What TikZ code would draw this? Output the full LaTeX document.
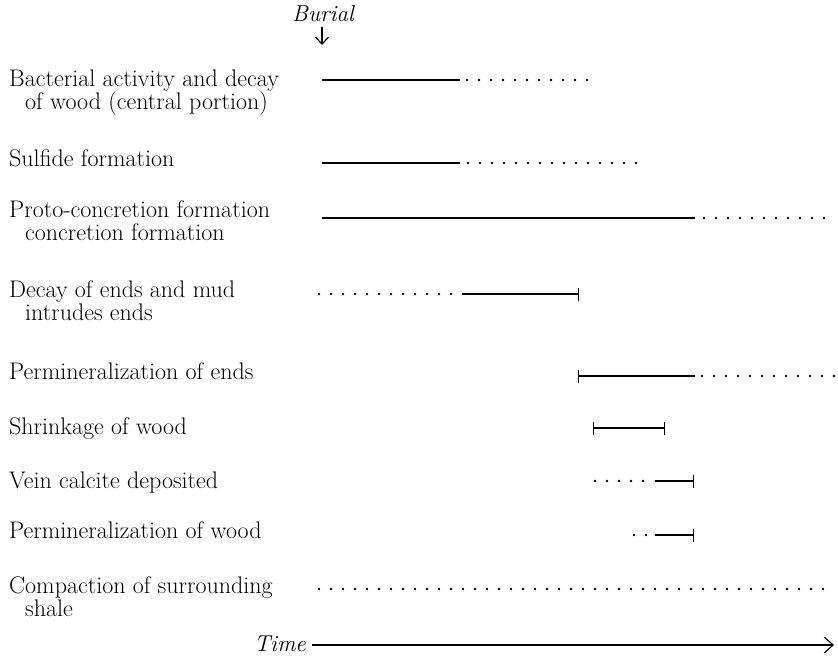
\documentclass[tikz,border=0pt]{standalone}
\usepackage{fontspec}
\usetikzlibrary{arrows.meta}
\begin{document}
\begin{tikzpicture}[x=1pt,y=-1pt,
  lbl/.style={anchor=base west,inner sep=0pt,font=\fontsize{24}{23}\selectfont\addfontfeatures{FakeBold=0.6}},
  itlbl/.style={inner sep=0pt,font=\fontsize{23}{23}\selectfont\itshape\addfontfeatures{FakeBold=0.6}},
  solidseg/.style={line width=1.4pt},
  dotseg/.style={line width=2.8pt,line cap=round,dash pattern=on 0pt off 12pt},
  barend/.style={-{Bar[width=13pt,line width=1.4pt]}},
  barstart/.style={{Bar[width=13pt,line width=1.4pt]}-},
  barboth/.style={{Bar[width=13pt,line width=1.4pt]}-{Bar[width=13pt,line width=1.4pt]}},
]
\useasboundingbox (0,0) rectangle (838,658);
% Burial
\node[itlbl,anchor=base] (burial) at (323,22) {Burial};
\coordinate (bt) at (322,27);
\coordinate (bb) at (322,45);
\draw[line width=1.2pt,-{Straight Barb[length=7pt,width=13pt,line width=1.2pt]}] (bt) -- (bb);

% labels
\node[lbl] (l1a) at (9,87) {Bacterial activity and decay};
\node[lbl] (l1b) at (25,110) {of wood (central portion)};
\node[lbl] (l2) at (9,166) {Sulfide formation};
\node[lbl] (l3a) at (9,217) {Proto-concretion formation};
\node[lbl] (l3b) at (25,240) {concretion formation};
\node[lbl] (l4a) at (9,297) {Decay of ends and mud};
\node[lbl] (l4b) at (25,320) {intrudes ends};
\node[lbl] (l5) at (9,379) {Permineralization of ends};
\node[lbl] (l6) at (9,434) {Shrinkage of wood};
\node[lbl] (l7) at (9,488) {Vein calcite deposited};
\node[lbl] (l8) at (9,538) {Permineralization of wood};
\node[lbl] (l9a) at (9,593) {Compaction of surrounding};
\node[lbl] (l9b) at (25,616) {shale};

% row 1
\coordinate (r1a) at (322,80); \coordinate (r1b) at (460,80);
\coordinate (r1c) at (467,80); \coordinate (r1d) at (590,80);
\draw[solidseg] (r1a) -- (r1b);
\draw[dotseg] (r1c) -- (r1d);
% row 2
\coordinate (r2a) at (322,163); \coordinate (r2b) at (460,163);
\coordinate (r2c) at (468,163); \coordinate (r2d) at (638,163);
\draw[solidseg] (r2a) -- (r2b);
\draw[dotseg] (r2c) -- (r2d);
% row 3
\coordinate (r3a) at (322,218); \coordinate (r3b) at (695,218);
\coordinate (r3c) at (704,218); \coordinate (r3d) at (830,218);
\draw[solidseg] (r3a) -- (r3b);
\draw[dotseg] (r3c) -- (r3d);
% row 4
\coordinate (r4a) at (319,294); \coordinate (r4b) at (456,294);
\coordinate (r4c) at (462,294); \coordinate (r4d) at (579,294);
\draw[dotseg] (r4a) -- (r4b);
\draw[solidseg,barend] (r4c) -- (r4d);
% row 5
\coordinate (r5a) at (578,376); \coordinate (r5b) at (695,376);
\coordinate (r5c) at (702,376); \coordinate (r5d) at (836,376);
\draw[solidseg,barstart] (r5a) -- (r5b);
\draw[dotseg] (r5c) -- (r5d);
% row 6
\coordinate (r6a) at (593,428); \coordinate (r6b) at (665,428);
\draw[solidseg,barboth] (r6a) -- (r6b);
% row 7
\coordinate (r7a) at (595,481); \coordinate (r7b) at (644,481);
\coordinate (r7c) at (655,481); \coordinate (r7d) at (694,481);
\draw[dotseg] (r7a) -- (r7b);
\draw[solidseg,barend] (r7c) -- (r7d);
% row 8
\coordinate (r8a) at (634,535); \coordinate (r8b) at (646,535);
\coordinate (r8c) at (655,535); \coordinate (r8d) at (694,535);
\draw[dotseg] (r8a) -- (r8b);
\draw[solidseg,barend] (r8c) -- (r8d);
% row 9
\coordinate (r9a) at (319,589); \coordinate (r9b) at (833,589);
\draw[dotseg] (r9a) -- (r9b);

% Time
\node[itlbl,anchor=base east] (time) at (306,651) {Time};
\coordinate (te) at (834,645);
\draw[line width=1.2pt,-{Straight Barb[length=9pt,width=16pt,line width=1.2pt]}] (time.east |- te) ++(6,0) -- (te);
\end{tikzpicture}
\end{document}
